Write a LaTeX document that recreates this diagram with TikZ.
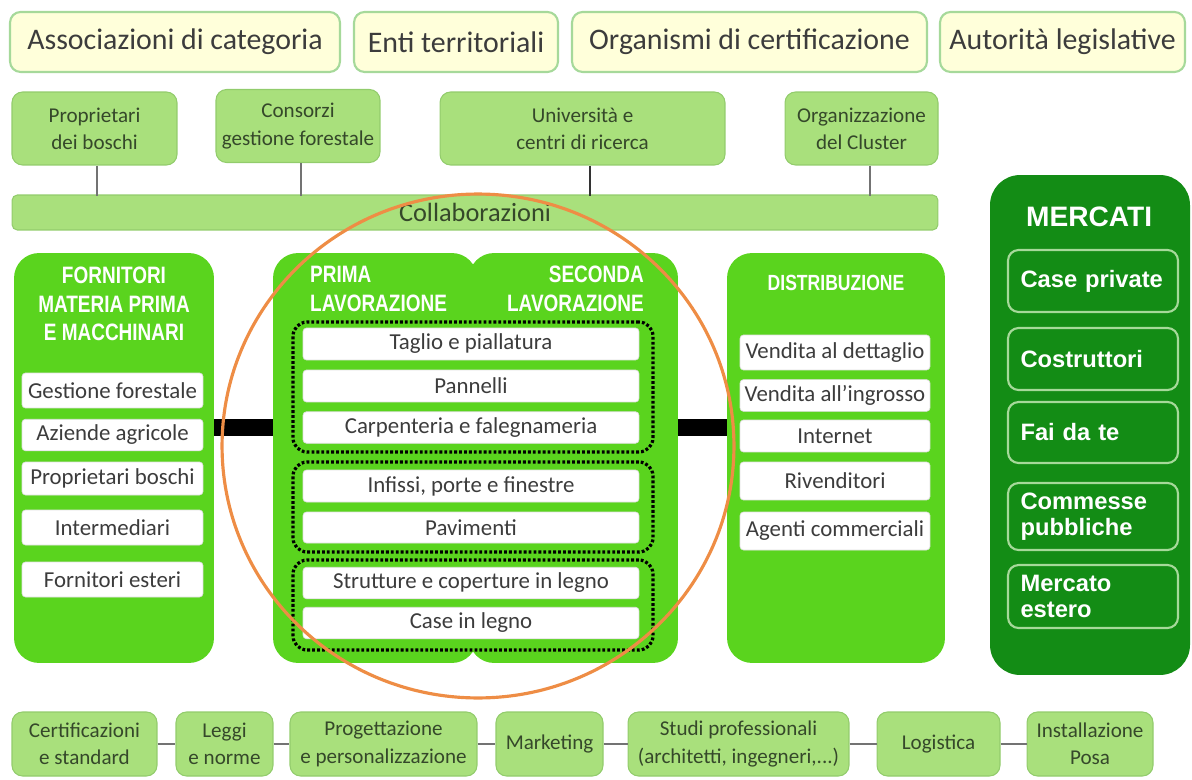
\documentclass[tikz,border=0pt]{standalone}
\usepackage{fontspec}
\setmainfont{Carlito}
\newfontfamily\headfont[FakeStretch=0.8]{Liberation Sans}
\newfontfamily\marketfont{Liberation Sans}
\usetikzlibrary{positioning}
\definecolor{paleyellow}{HTML}{FFFFDA}
\definecolor{edgegreen}{HTML}{A6D99A}
\definecolor{softgreen}{HTML}{A9E07C}
\definecolor{softedge}{HTML}{92CC6C}
\definecolor{brightgreen}{HTML}{5AD41E}
\definecolor{darkgreen}{HTML}{138C15}
\definecolor{ringorange}{HTML}{EE8D45}
\definecolor{textgray}{HTML}{3C3C3C}
\definecolor{olivetext}{HTML}{35482A}

\begin{document}
\begin{tikzpicture}[x=0.02cm,y=-0.02cm,
	topbox/.style={draw=edgegreen, line width=1.2pt, fill=paleyellow, rounded corners=6pt, minimum height=1.2cm, inner xsep=2pt, text=textgray, font=\fontsize{17}{19}\selectfont},
	actor/.style={draw=softedge, line width=0.6pt, fill=softgreen, rounded corners=6pt, align=center, inner xsep=2pt, text=olivetext, font=\fontsize{12}{15.5}\selectfont},
	column/.style={fill=brightgreen, rounded corners=0.5cm, minimum width=#1, minimum height=8.2cm},
	colhead/.style={text=white, align=center, font=\headfont\bfseries\fontsize{13.5}{16.2}\selectfont},
	item/.style={draw=black!12, fill=white, rounded corners=2pt, inner xsep=2pt, text=textgray, font=\fontsize{13}{14}\selectfont, minimum width=#1},
	group/.style={draw=black, line width=1.8pt, dash pattern=on 1.6pt off 1.2pt, rounded corners=8pt, minimum width=7.2cm},
	market/.style={draw=edgegreen, line width=1.2pt, rounded corners=6pt, text width=2.9cm, inner xsep=0.25cm, align=left, text=white, font=\marketfont\bfseries\fontsize{13.5}{14.5}\selectfont},
	link/.style={draw=black!55, line width=1.4pt},
	bar/.style={draw=black, line width=0.34cm},
	]
	\useasboundingbox (0,0) rectangle (1192,780);

	% interlocutori
	\node[topbox, minimum width=6.6cm] at (175, 42) (assoc) {Associazioni di categoria};
	\node[topbox, minimum width=4.08cm] at (456, 42) (enti) {Enti territoriali};
	\node[topbox, minimum width=7.1cm] at (749.5, 42) (organismi) {Organismi di certificazione};
	\node[topbox, minimum width=4.9cm] at (1062.5, 42) (autorita) {Autorità legislative};

	% collaborazioni
	\node[actor, minimum width=3.3cm, minimum height=1.46cm] at (94.5, 128.5) (proprietari) {Proprietari\\dei boschi};
	\node[actor, minimum width=3.28cm, minimum height=1.46cm] at (298, 126) (consorzi) {Consorzi\\gestione forestale};
	\node[actor, minimum width=5.7cm, minimum height=1.46cm] at (582.5, 128.5) (universita) {Università e\\centri di ricerca};
	\node[actor, minimum width=3.06cm, minimum height=1.46cm] at (861.5, 128.5) (cluster) {Organizzazione\\del Cluster};
	\node[actor, rounded corners=3pt, minimum width=18.52cm, minimum height=0.7cm, font=\fontsize{15}{17}\selectfont] at (475, 212.5) (collab) {Collaborazioni};
	\draw[link] ([xshift=0.05cm]proprietari.south) -- ++(0,30);
	\draw[link] ([xshift=0.06cm]consorzi.south) -- ++(0,33);
	\draw[link, draw=black!80] ([xshift=0.15cm]universita.south) -- ++(0,30);
	\draw[link] ([xshift=0.17cm]cluster.south) -- ++(0,30);

	% fornitori
	\node[column=4cm] at (114, 458) (fornitori) {};
	\node[colhead] at (114, 304) (tfornitori) {FORNITORI\\MATERIA PRIMA\\E MACCHINARI};
	\node[item=3.62cm, minimum height=0.7cm] at (112.5, 390.5) (gestione) {Gestione forestale};
	\node[item=3.62cm, minimum height=0.52cm] at (112.5, 435) (aziende) {Aziende agricole};
	\node[item=3.62cm, minimum height=0.66cm] at (112.5, 478.5) (propboschi) {Proprietari boschi};
	\node[item=3.62cm, minimum height=0.7cm] at (112.5, 527.5) (intermediari) {Intermediari};
	\node[item=3.62cm, minimum height=0.7cm] at (112.5, 579.5) (esteri) {Fornitori esteri};

	% lavorazione
	\node[column=4.08cm] at (375, 458) (prima) {};
	\node[column=4.18cm] at (573.5, 458) (seconda) {};
	\node[colhead, anchor=west, align=left] at (304, 289) (tprima) {PRIMA\\LAVORAZIONE};
	\node[colhead, anchor=east, align=right] at (650, 289) (tseconda) {SECONDA\\LAVORAZIONE};
	\node[item=6.72cm, minimum height=0.64cm] at (471, 344) (taglio) {Taglio e piallatura};
	\node[item=6.72cm, minimum height=0.64cm] at (471, 386) (pannelli) {Pannelli};
	\node[item=6.72cm, minimum height=0.62cm] at (471, 427.5) (carpenteria) {Carpenteria e falegnameria};
	\node[item=6.72cm, minimum height=0.64cm] at (471, 486) (infissi) {Infissi, porte e finestre};
	\node[item=6.72cm, minimum height=0.62cm] at (471, 527.5) (pavimenti) {Pavimenti};
	\node[item=6.72cm, minimum height=0.6cm] at (471, 583) (strutture) {Strutture e coperture in legno};
	\node[item=6.72cm, minimum height=0.6cm] at (471, 623) (case) {Case in legno};
	\node[group, minimum height=2.6cm] at (473, 387) (gruppo1) {};
	\node[group, minimum height=1.8cm] at (473, 507) (gruppo2) {};
	\node[group, minimum height=1.8cm] at (473, 605) (gruppo3) {};

	% distribuzione
	\node[column=4.36cm] at (836, 458) (distribuzione) {};
	\node[colhead, font=\headfont\bfseries\fontsize{12.5}{15}\selectfont] at (836, 283) (tdistribuzione) {DISTRIBUZIONE};
	\node[item=3.8cm, minimum height=0.7cm] at (835, 352.5) (dettaglio) {Vendita al dettaglio};
	\node[item=3.8cm, minimum height=0.5cm] at (835, 395.5) (ingrosso) {Vendita all'ingrosso};
	\node[item=3.8cm, minimum height=0.64cm] at (835, 436) (internet) {Internet};
	\node[item=3.8cm, minimum height=0.76cm] at (835, 481) (rivenditori) {Rivenditori};
	\node[item=3.8cm, minimum height=0.76cm] at (835, 531) (agenti) {Agenti commerciali};

	\draw[bar] (fornitori.east |- carpenteria) -- (prima.west |- carpenteria);
	\draw[bar] (seconda.east |- carpenteria) -- (distribuzione.west |- carpenteria);

	% mercati
	\node[fill=darkgreen, rounded corners=0.6cm, minimum width=4cm, minimum height=10cm] at (1090, 425) (mercati) {};
	\node[anchor=west, text=white, font=\marketfont\bfseries\fontsize{16}{18}\selectfont] at (1020, 217) (tmercati) {MERCATI};
	\node[market, minimum height=1.24cm] at (1093, 281) (private) {Case private};
	\node[market, minimum height=1.24cm] at (1093, 359) (costruttori) {Costruttori};
	\node[market, minimum height=1.22cm] at (1093, 432.5) (faidate) {Fai da te};
	\node[market, minimum height=1.34cm] at (1093, 516.5) (commesse) {Commesse\\pubbliche};
	\node[market, minimum height=1.26cm] at (1093, 596.5) (estero) {Mercato\\estero};

	% servizi
	\node[actor, minimum width=2.9cm, minimum height=1.28cm] at (84.5, 744) (certificazioni) {Certificazioni\\e standard};
	\node[actor, minimum width=1.94cm, minimum height=1.28cm] at (224.5, 744) (leggi) {Leggi\\e norme};
	\node[actor, minimum width=3.74cm, minimum height=1.28cm] at (383.5, 744) (progettazione) {Progettazione\\e personalizzazione};
	\node[actor, minimum width=2.14cm, minimum height=1.28cm] at (549.5, 744) (marketing) {Marketing};
	\node[actor, minimum width=4.42cm, minimum height=1.28cm] at (738.5, 744) (studi) {Studi professionali\\(architetti, ingegneri,...)};
	\node[actor, minimum width=2.46cm, minimum height=1.28cm] at (938.5, 744) (logistica) {Logistica};
	\node[actor, minimum width=2.52cm, minimum height=1.28cm] at (1090, 744) (installazione) {Installazione\\Posa};
	\draw[link] (certificazioni) -- (leggi);
	\draw[link] (leggi) -- (progettazione);
	\draw[link] (progettazione) -- (marketing);
	\draw[link] (marketing) -- (studi);
	\draw[link] (studi) -- (logistica);
	\draw[link] (logistica) -- (installazione);

	% focus
	\draw[ringorange, line width=1.8pt] (478, 446) ellipse [x radius=5.12cm, y radius=5.04cm];
\end{tikzpicture}
\end{document}
